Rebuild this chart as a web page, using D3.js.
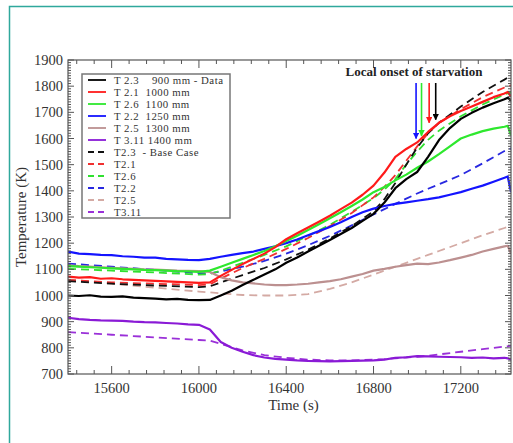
<!DOCTYPE html>
<html><head><meta charset="utf-8">
<script src="https://cdn.jsdelivr.net/npm/d3@7"></script>
<style>
html,body{margin:0;padding:0;background:#fff;}
svg{display:block;}
text{font-family:"Liberation Serif","DejaVu Serif",serif;}
</style></head>
<body>
<svg id="chart" width="513" height="443"></svg>
<script>
// ---------- data ----------
const timeData = [15400,15450,15500,15550,15600,15650,15700,15750,15800,15850,15900,15950,16000,16050,16100,16150,16200,16250,16300,16350,16400,16450,16500,16550,16600,16650,16700,16750,16800,16850,16900,16950,17000,17050,17100,17150,17200,17250,17300,17350,17400,17415,17430];
const dataT23  = [1000,998,1001,996,995,997,992,990,988,985,987,983,982,983,1000,1018,1040,1060,1080,1100,1125,1145,1168,1190,1212,1235,1258,1285,1312,1355,1410,1445,1472,1530,1594,1640,1675,1698,1718,1735,1750,1756,1745];
const dataT21  = [1072,1068,1070,1064,1066,1062,1060,1058,1056,1054,1052,1050,1048,1050,1075,1098,1120,1140,1160,1185,1215,1238,1260,1282,1305,1330,1355,1385,1420,1470,1530,1560,1585,1625,1660,1685,1705,1722,1740,1758,1772,1778,1760];
const dataT26  = [1112,1110,1108,1106,1104,1102,1100,1098,1097,1095,1093,1092,1090,1095,1110,1125,1140,1155,1170,1188,1208,1228,1250,1272,1295,1318,1342,1367,1395,1415,1440,1462,1488,1512,1540,1570,1600,1615,1628,1638,1645,1648,1612];
const dataT22  = [1168,1160,1158,1155,1154,1150,1148,1145,1145,1140,1138,1136,1135,1140,1148,1155,1162,1168,1178,1188,1200,1214,1230,1246,1262,1280,1300,1318,1332,1342,1350,1356,1362,1368,1375,1385,1395,1408,1420,1435,1450,1455,1395];
const dataT25  = [1115,1112,1110,1108,1106,1104,1102,1100,1099,1097,1095,1094,1093,1090,1070,1058,1050,1046,1042,1040,1040,1042,1045,1050,1055,1062,1072,1082,1095,1102,1110,1116,1122,1120,1126,1135,1145,1155,1168,1178,1188,1190,1160];
const dataT311 = [915,910,907,905,904,903,900,898,897,895,893,890,888,870,822,800,785,772,763,758,755,752,750,749,748,749,750,751,752,755,762,764,768,767,766,765,764,762,763,760,762,760,755];

const timeModel = [15400,15600,15800,16000,16050,16100,16200,16300,16400,16500,16600,16700,16800,16850,16900,16950,17000,17050,17100,17200,17300,17400,17440];
const modelT23  = [1055,1045,1038,1032,1035,1050,1078,1105,1138,1175,1218,1265,1322,1368,1430,1500,1565,1620,1660,1722,1778,1825,1845];
const modelT21  = [1060,1050,1045,1040,1042,1065,1105,1140,1178,1220,1265,1315,1375,1415,1460,1515,1570,1620,1660,1712,1758,1795,1805];
const modelT26  = [1102,1095,1088,1080,1082,1095,1125,1155,1188,1228,1270,1320,1372,1405,1445,1500,1550,1595,1630,1685,1730,1768,1780];
const modelT22  = [1122,1110,1098,1085,1085,1092,1110,1132,1160,1192,1228,1268,1310,1330,1350,1370,1390,1408,1425,1460,1505,1552,1565];
const modelT25  = [1062,1045,1030,1015,1012,1008,1002,1000,1000,1005,1025,1050,1080,1095,1110,1125,1140,1155,1170,1200,1230,1258,1268];
const modelT311 = [860,850,840,830,828,815,790,772,762,755,752,752,755,757,760,763,766,770,775,785,795,805,808];

const seriesNames = ["T 2.3    900 mm - Data","T 2.1  1000 mm","T 2.6  1100 mm","T 2.2  1250 mm","T 2.5  1300 mm","T 3.11 1400 mm",
                     "T2.3  - Base Case","T2.1","T2.6","T2.2","T2.5","T3.11"];
const yTicks = [700,800,900,1000,1100,1200,1300,1400,1500,1600,1700,1800,1900];
const xTicks = [15600,16000,16400,16800,17200];
const onsetTimes = [16995,17020,17055,17085];
const onsetTemps = [1600,1610,1660,1672];

// ---------- layout ----------
const svg = d3.select("#chart");
const L = 68, R = 511, T = 60, B = 374;
const x = d3.scaleLinear().domain([15400, 17430]).range([L, R]);
const y = d3.scaleLinear().domain([700, 1900]).range([B, T]);

svg.append("path").attr("d","M9.5,443 V6.5 H513").attr("fill","none").attr("stroke","#2fa89c").attr("stroke-width",1.5);

svg.append("defs").append("clipPath").attr("id","clip")
  .append("rect").attr("x",L).attr("y",T).attr("width",R-L).attr("height",B-T);

const solidColors = ["#000000","#ff1a1a","#2ee82e","#1414ff","#bc9090","#8a1ad6"];
const dashColors  = ["#111111","#f03030","#30e030","#2828e0","#d4aaa4","#9a30d8"];
const dataSets = [dataT23,dataT21,dataT26,dataT22,dataT25,dataT311];
const modelSets = [modelT23,modelT21,modelT26,modelT22,modelT25,modelT311];

const g = svg.append("g").attr("clip-path","url(#clip)");
const line = d3.line().x(d=>x(d[0])).y(d=>y(d[1]));

const order = [4,5,3,2,1,0];
order.forEach(i=>{
  g.append("path").datum(timeModel.map((t,k)=>[t,modelSets[i][k]]))
    .attr("d",line).attr("fill","none").attr("stroke",dashColors[i])
    .attr("stroke-width",1.8).attr("stroke-dasharray","8,5");
});
order.forEach(i=>{
  g.append("path").datum(timeData.map((t,k)=>[t,dataSets[i][k]]))
    .attr("d",line).attr("fill","none").attr("stroke",solidColors[i])
    .attr("stroke-width",2.2).attr("stroke-linejoin","round");
});

const axisColor = "#555";
const ax = svg.append("g");
function ticksY(xPos, dir){
  d3.range(700,1901,10).forEach(v=>{
    const len = v%100===0 ? 6 : 3;
    ax.append("line").attr("x1",xPos).attr("x2",xPos+dir*len).attr("y1",y(v)).attr("y2",y(v))
      .attr("stroke",axisColor).attr("stroke-width",1);
  });
}
function ticksX(yPos, dir){
  d3.range(15440,17431,80).forEach(v=>{
    const len = (v-15600)%400===0 ? 8 : 4;
    ax.append("line").attr("y1",yPos).attr("y2",yPos+dir*len).attr("x1",x(v)).attr("x2",x(v))
      .attr("stroke",axisColor).attr("stroke-width",1);
  });
}
ticksY(L,1); ticksY(R,-1); ticksX(B,-1); ticksX(T,1);
ax.append("rect").attr("x",L).attr("y",T).attr("width",R-L).attr("height",B-T)
  .attr("fill","none").attr("stroke",axisColor).attr("stroke-width",1.2);

yTicks.forEach(v=>{
  svg.append("text").attr("x",L-5).attr("y",y(v)).attr("dy","0.35em").attr("text-anchor","end")
    .attr("font-size",14.5).attr("fill","#333").text(v);
});
xTicks.forEach(v=>{
  svg.append("text").attr("x",x(v)).attr("y",B+19).attr("text-anchor","middle")
    .attr("font-size",14.5).attr("fill","#333").text(v);
});
svg.append("text").attr("x",(L+R)/2+4).attr("y",410).attr("text-anchor","middle")
  .attr("font-size",15).attr("fill","#333").text("Time (s)");
svg.append("text").attr("transform",`translate(26,${(T+B)/2}) rotate(-90)`).attr("text-anchor","middle")
  .attr("font-size",15).attr("fill","#333").text("Temperature (K)");

const lg = svg.append("g");
lg.append("rect").attr("x",82).attr("y",74).attr("width",148).attr("height",144)
  .attr("fill","#fff").attr("stroke","#777").attr("stroke-width",1.5);
seriesNames.forEach((name,i)=>{
  const yy = 80 + i*12;
  const k = i%6, dashed = i>=6;
  lg.append("line").attr("x1",88).attr("x2",106).attr("y1",yy).attr("y2",yy)
    .attr("stroke",dashed?dashColors[k]:solidColors[k]).attr("stroke-width",1.8)
    .attr("stroke-dasharray",dashed?"6,4":null);
  lg.append("text").attr("x",114).attr("y",yy).attr("dy","0.35em").attr("font-size",10.8)
    .attr("letter-spacing",0.5)
    .attr("fill","#333").attr("xml:space","preserve").style("white-space","pre").text(name);
});

svg.append("text").attr("x",414).attr("y",76).attr("text-anchor","middle").attr("font-size",13)
  .attr("font-weight","bold").attr("fill","#222").text("Local onset of starvation");
const arrowColors = ["#1414ff","#2ee82e","#ff1a1a","#000000"];
const defs = svg.select("defs");
arrowColors.forEach((c,i)=>{
  defs.append("marker").attr("id","ah"+i).attr("viewBox","0 0 10 10").attr("refX",9).attr("refY",5)
    .attr("markerWidth",4).attr("markerHeight",4).attr("orient","auto")
    .append("path").attr("d","M0,0 L10,5 L0,10 z").attr("fill",c);
  const xx = x(onsetTimes[i]);
  svg.append("line").attr("x1",xx).attr("x2",xx).attr("y1",83).attr("y2",y(onsetTemps[i]))
    .attr("stroke",c).attr("stroke-width",1.6).attr("marker-end",`url(#ah${i})`);
});
</script>
</body></html>
